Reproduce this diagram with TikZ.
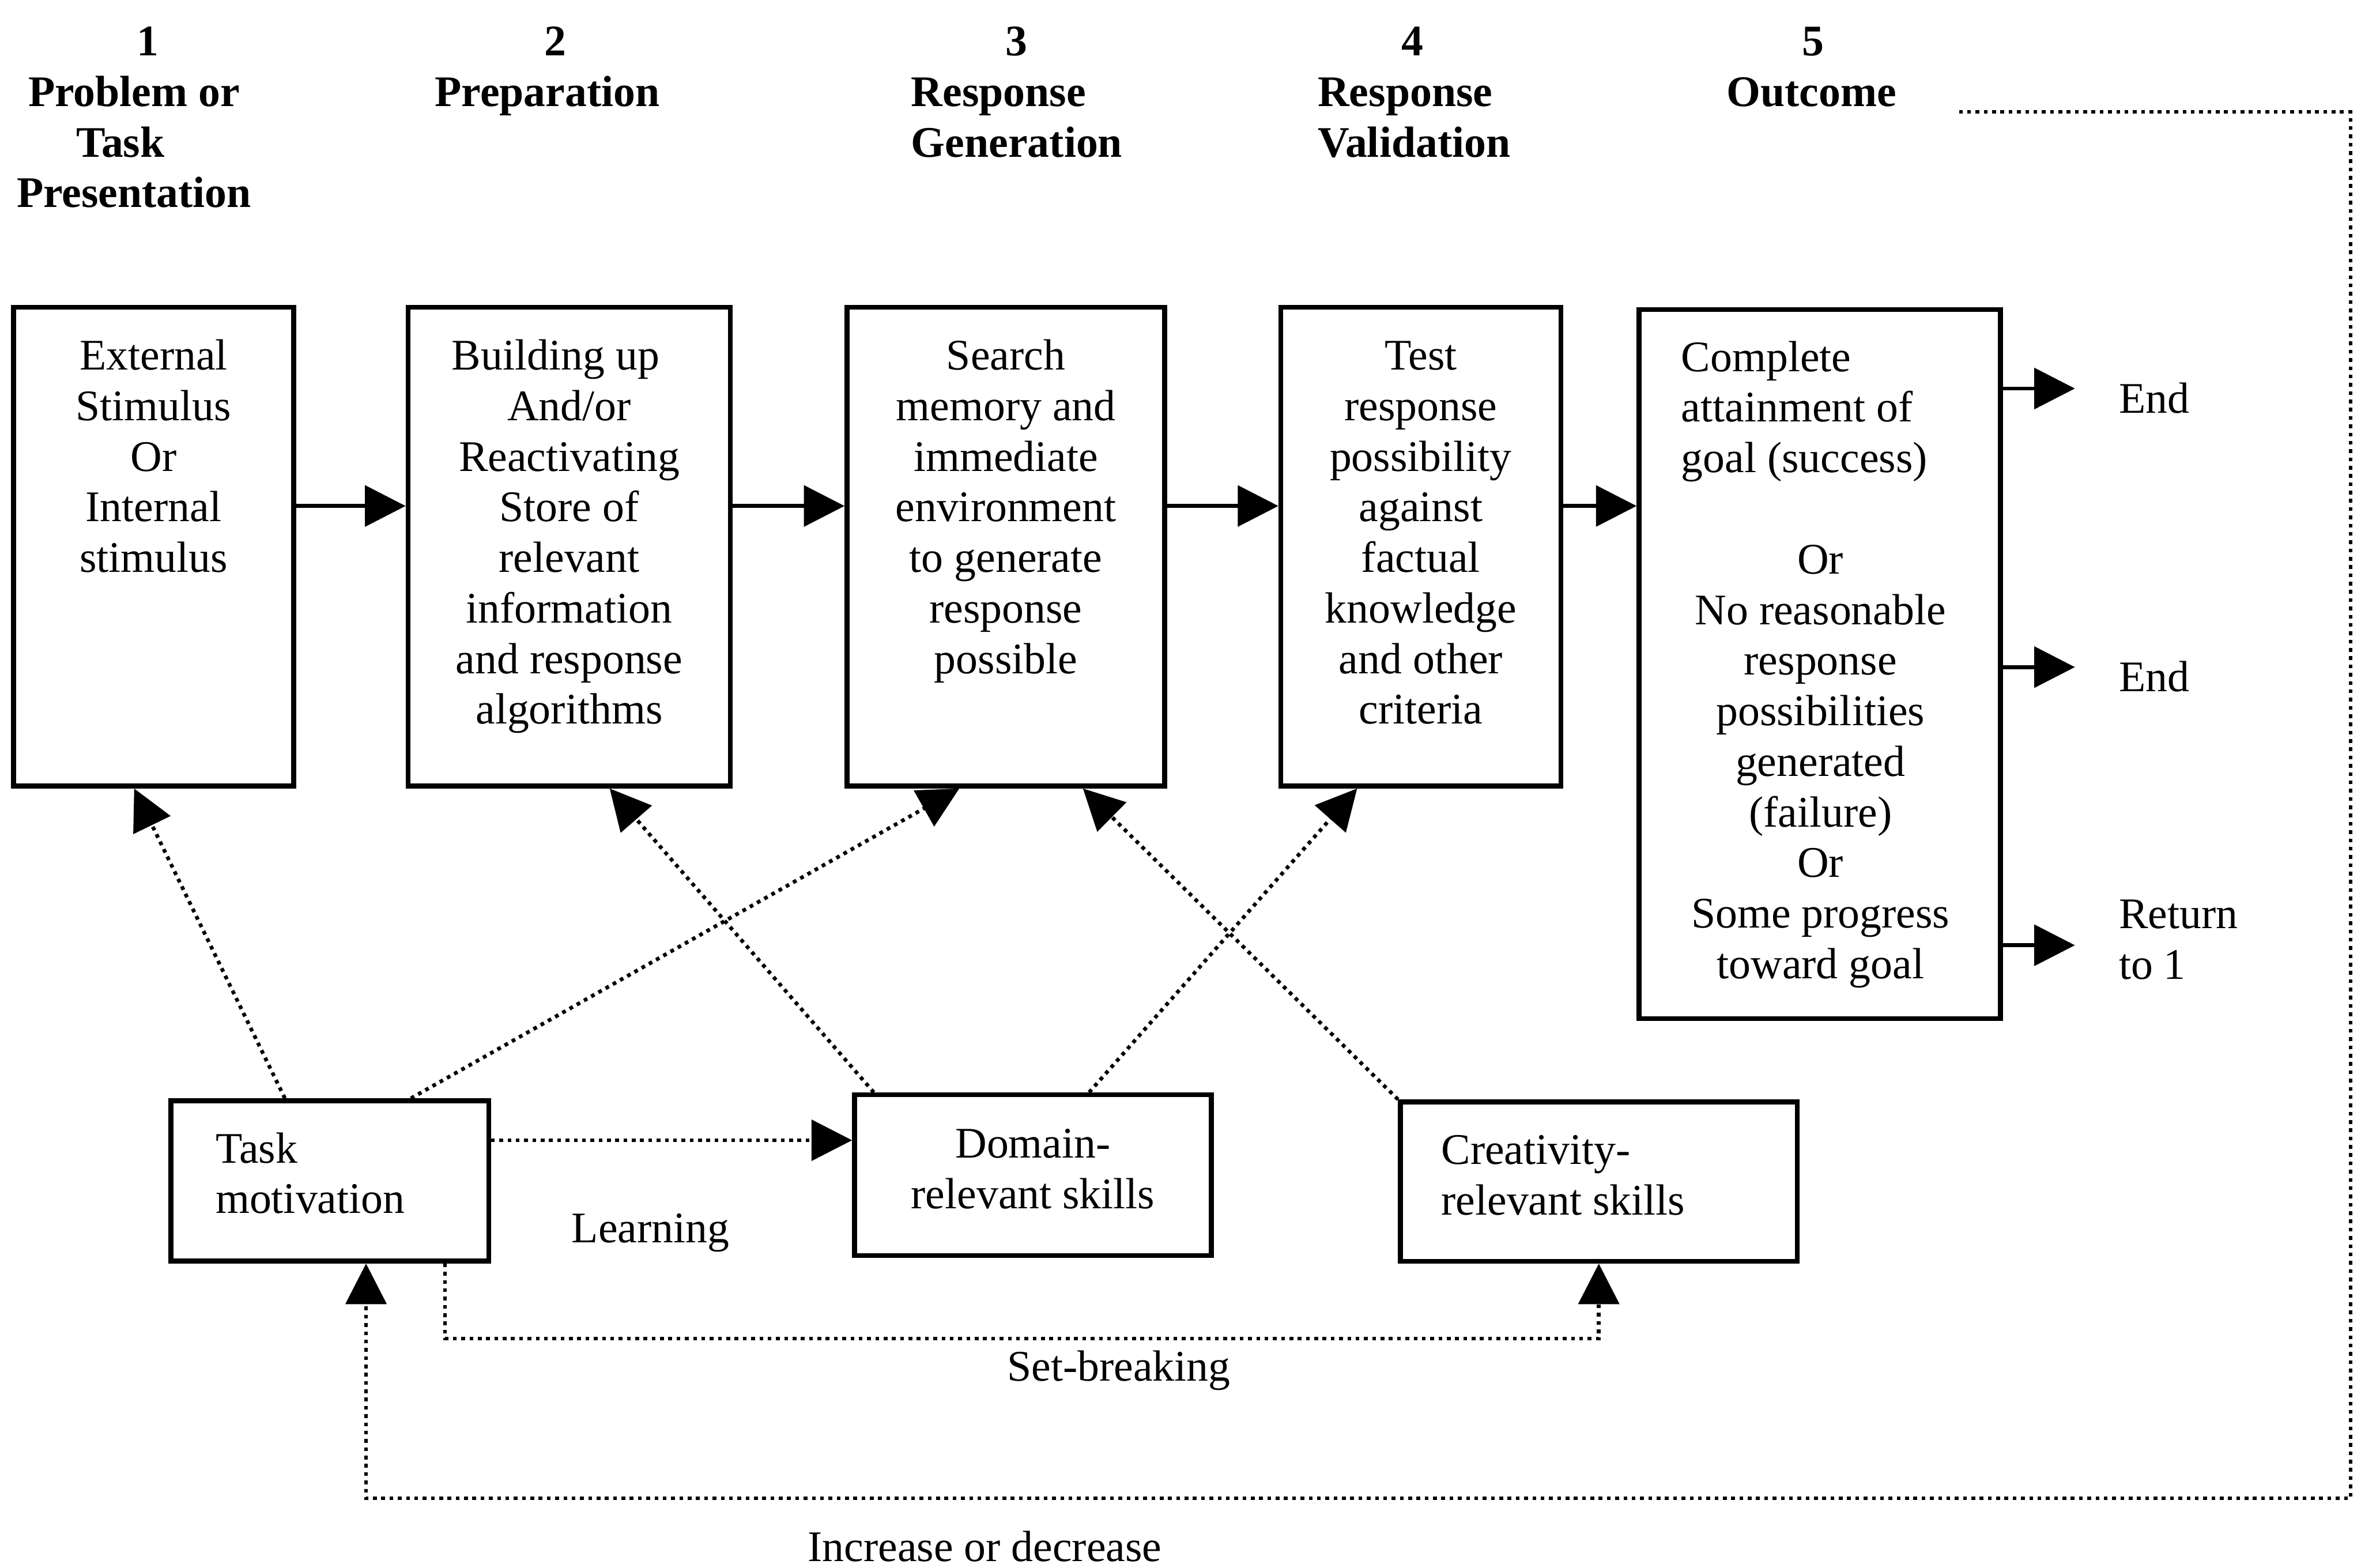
\documentclass[tikz,border=0pt]{standalone}
\usepackage{fontspec}
\setmainfont{Liberation Serif}
\usetikzlibrary{arrows.meta,calc}

% zero-width strut that fixes the height of a first line
\newcommand{\fs}{\rule{0pt}{21pt}}

\begin{document}
\begin{tikzpicture}[x=1pt,y=-1pt,
  txt/.style={inner sep=0pt, font=\fontsize{29pt}{33.6pt}\selectfont},
  hdr/.style={inner sep=0pt, font=\fontsize{29pt}{33.5pt}\selectfont\bfseries},
  box/.style={draw, line width=3.2pt, inner sep=0pt},
  tip/.style={-{Triangle[length=27pt,width=27pt]}},
  flow/.style={tip, line width=2.6pt},
  dots/.style={tip, line width=2.5pt, dash pattern=on 2.5pt off 3pt},
]
\useasboundingbox (0,0) rectangle (1568,1041);

% ---- stage headings
\node[hdr, anchor=base] (n1) at (98,37) {1};
\node[hdr, anchor=base] (n2) at (369,37) {2};
\node[hdr, anchor=base] (n3) at (675,37) {3};
\node[hdr, anchor=base] (n4) at (938,37) {4};
\node[hdr, anchor=base] (n5) at (1204,37) {5};
\node[hdr, anchor=north, align=center] (h1) at (89,49.5)
  {\fs Problem or\\Task\rule{18pt}{0pt}\\Presentation};
\node[hdr, anchor=base] (h2) at (363.5,70.5) {Preparation};
\node[hdr, anchor=north west, align=left] (h3) at (605,49.5) {\fs Response\\Generation};
\node[hdr, anchor=north west, align=left] (h4) at (875,49.5) {\fs Response\\Validation};
\node[hdr, anchor=base] (h5) at (1203,70.5) {Outcome};

% ---- process boxes
\node[box, minimum width=186pt, minimum height=318pt] (b1) at (102,363) {};
\node[box, minimum width=214pt, minimum height=318pt] (b2) at (378,363) {};
\node[box, minimum width=211pt, minimum height=318pt] (b3) at (668,363) {};
\node[box, minimum width=186pt, minimum height=318pt] (b4) at (943.6,363) {};
\node[box, minimum width=240pt, minimum height=471pt] (b5) at (1208.5,441) {};

\node[txt, anchor=north, align=center] (b1t) at (102,224.4)
  {\fs External\\Stimulus\\Or\\Internal\\stimulus};
\node[txt, anchor=north, align=center] (b2t) at (378,224.4)
  {\fs Building up\rule{18pt}{0pt}\\And/or\\Reactivating\\Store of\\relevant\\information\\and response\\algorithms};
\node[txt, anchor=north, align=center] (b3t) at (668,224.4)
  {\fs Search\\memory and\\immediate\\environment\\to generate\\response\\possible};
\node[txt, anchor=north, align=center] (b4t) at (943.6,224.4)
  {\fs Test\\response\\possibility\\against\\factual\\knowledge\\and other\\criteria};
\node[txt, anchor=north west, align=left] (b5a) at (1116.4,225.4)
  {\fs Complete\\attainment of\\goal (success)};
\node[txt, anchor=north, align=center] (b5b) at (1209,359.8)
  {\fs Or\\No reasonable\\response\\possibilities\\generated\\(failure)\\Or\\Some progress\\toward goal};

% ---- flow between stages
\draw[flow] ([yshift=27pt]b1.east) -- ([yshift=27pt]b2.west);
\draw[flow] ([yshift=27pt]b2.east) -- ([yshift=27pt]b3.west);
\draw[flow] ([yshift=27pt]b3.east) -- ([yshift=27pt]b4.west);
\draw[flow] ([yshift=27pt]b4.east) -- ([yshift=27pt]b4.east -| b5.west);

% ---- outcomes
\node[txt, anchor=base west] (end1) at (1407,274.4) {End};
\node[txt, anchor=base west] (end2) at (1407,459) {End};
\node[txt, anchor=north west, align=left] (ret) at (1407,595.3) {\fs Return\\to 1};
\coordinate (t1) at (1378,258);
\coordinate (t2) at (1378,443);
\coordinate (t3) at (1378,627.7);
\draw[flow] (b5.east |- t1) -- (t1);
\draw[flow] (b5.east |- t2) -- (t2);
\draw[flow] (b5.east |- t3) -- (t3);

% ---- components
\node[box, minimum width=211pt, minimum height=106.5pt] (tm) at (219,784.2) {};
\node[box, minimum width=237pt, minimum height=106.8pt] (dom) at (686,780.4) {};
\node[box, minimum width=263.5pt, minimum height=105.8pt] (cre) at (1061.8,784.6) {};
\node[txt, anchor=north west, align=left] (tmt) at (143,751) {\fs Task\\motivation};
\node[txt, anchor=north, align=center] (domt) at (686,747.8) {\fs Domain-\\relevant skills};
\node[txt, anchor=north west, align=left] (cret) at (957,752) {\fs Creativity-\\relevant skills};

% ---- influences of the components on the stages
\draw[dots] ([xshift=77.3pt]tm.north west) -- ([xshift=81.7pt]b1.south west);
\draw[dots] ([xshift=161pt]tm.north west) -- ([xshift=76.2pt]b3.south west);
\draw[dots] ([xshift=14.4pt]dom.north west) -- ([xshift=135.5pt]b2.south west);
\draw[dots] ([xshift=157.4pt]dom.north west) -- ([xshift=52.3pt]b4.south west);
\draw[dots] (cre.north west) -- ([xshift=158.3pt]b3.south west);

% ---- learning
\draw[dots] ([yshift=27pt]tm.east) -- ([yshift=27pt]tm.east -| dom.west);
\node[txt, anchor=base] (learn) at (432,825) {Learning};

% ---- set-breaking
\coordinate (sb) at (743,888.8);
\draw[dots] ([xshift=183.7pt]tm.south west) -- ([xshift=183.7pt]tm.south west |- sb) -| (cre.south);
\node[txt, anchor=base] (sbl) at (743,917) {Set-breaking};

% ---- feedback from the outcome to task motivation
\coordinate (fb0) at (1301,74.3);
\coordinate (fb1) at (1561,995);
\draw[dots] (fb0) -| (fb1) -| ([xshift=131.2pt]tm.south west);
\node[txt, anchor=base] (fbl) at (654,1036.7) {Increase or decrease};
\end{tikzpicture}
\end{document}
